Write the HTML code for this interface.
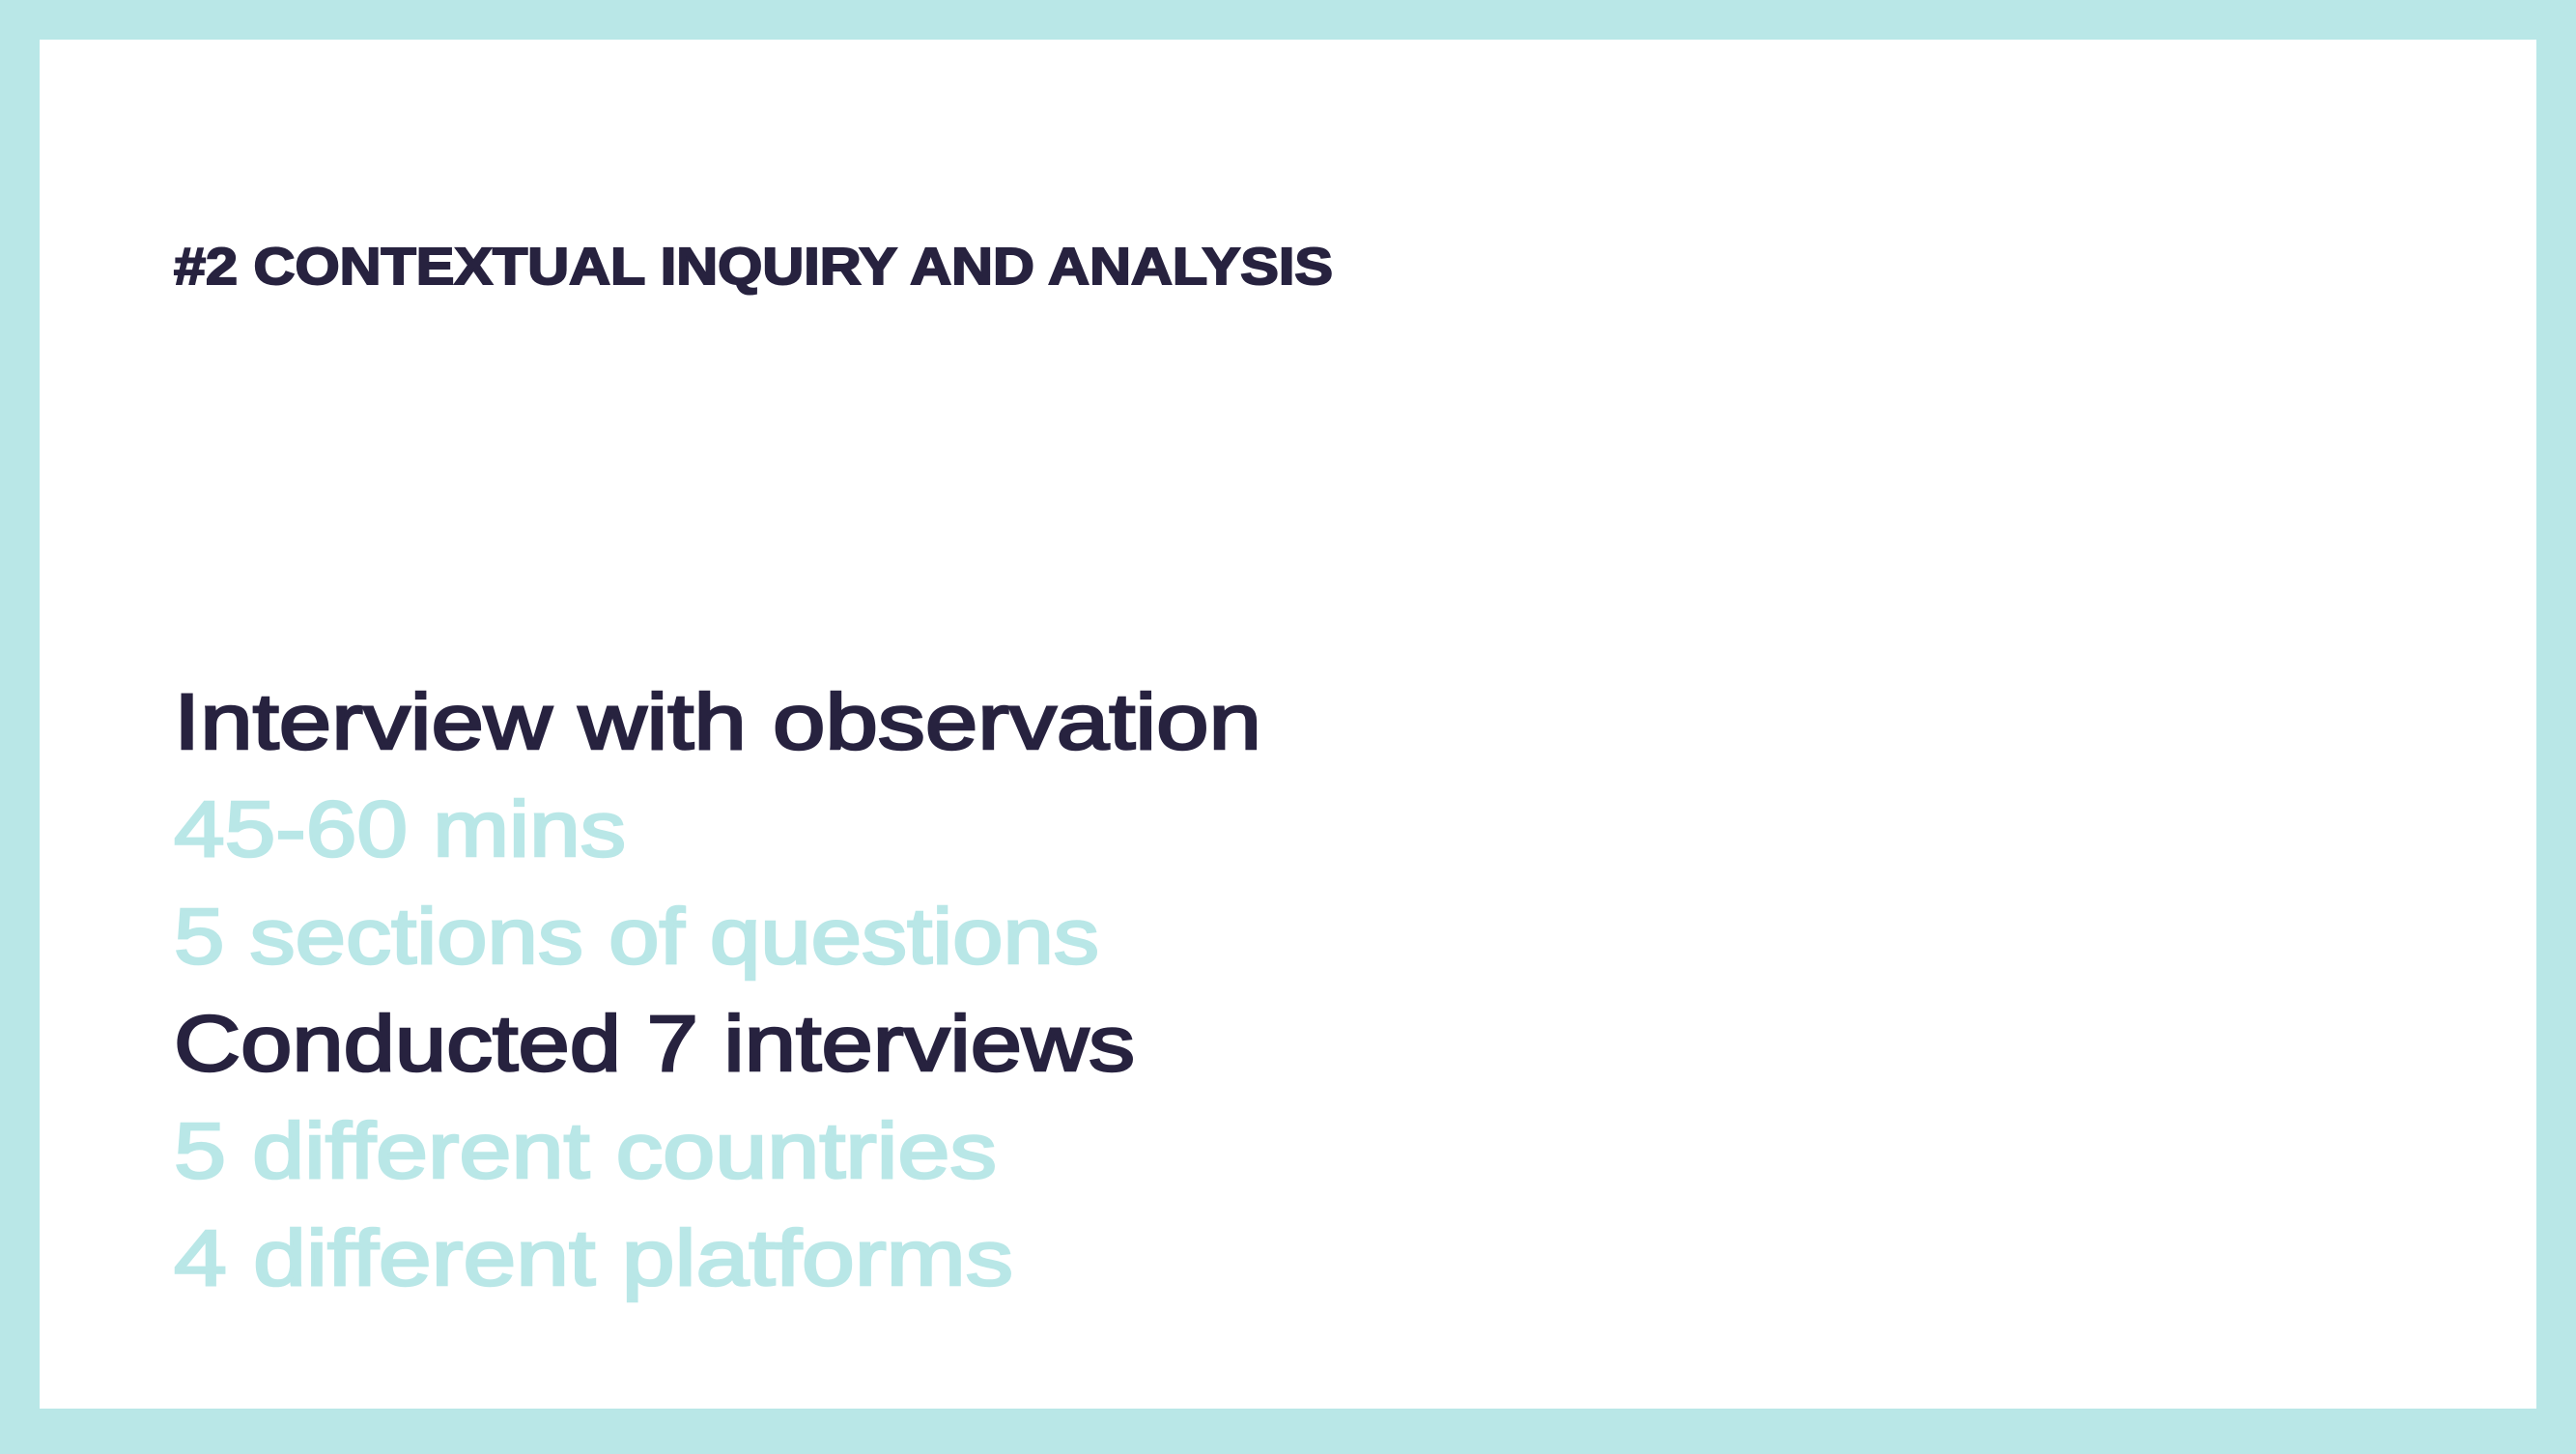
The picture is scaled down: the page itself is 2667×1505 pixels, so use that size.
<!DOCTYPE html>
<html><head><meta charset="utf-8"><style>
html,body{margin:0;padding:0;}
body{width:2667px;height:1500px;overflow:hidden;background:#b9e7e7;}
</style></head><body>
<svg width="2667" height="1500" xmlns="http://www.w3.org/2000/svg">
<rect x="0" y="0" width="2667" height="1500" fill="#b9e7e7"/>
<rect x="41" y="41" width="2585" height="1417" fill="#ffffff"/>
<g font-family="Liberation Sans, sans-serif">
<text x="180" y="294" font-size="54" font-weight="bold" fill="#27223f" stroke="#27223f" stroke-width="2" textLength="1200" lengthAdjust="spacingAndGlyphs">#2 CONTEXTUAL INQUIRY AND ANALYSIS</text>
<g stroke-width="2.5">
<text x="180" y="775" font-size="82" fill="#27223f" stroke="#27223f" textLength="1126" lengthAdjust="spacingAndGlyphs">Interview with observation</text>
<text x="180" y="886" font-size="82" fill="#b9e7e7" stroke="#b9e7e7" textLength="468" lengthAdjust="spacingAndGlyphs">45-60 mins</text>
<text x="180" y="997" font-size="82" fill="#b9e7e7" stroke="#b9e7e7" textLength="958" lengthAdjust="spacingAndGlyphs">5 sections of questions</text>
<text x="180" y="1108" font-size="82" fill="#27223f" stroke="#27223f" textLength="995" lengthAdjust="spacingAndGlyphs">Conducted 7 interviews</text>
<text x="180" y="1219" font-size="82" fill="#b9e7e7" stroke="#b9e7e7" textLength="852" lengthAdjust="spacingAndGlyphs">5 different countries</text>
<text x="180" y="1330" font-size="82" fill="#b9e7e7" stroke="#b9e7e7" textLength="869" lengthAdjust="spacingAndGlyphs">4 different platforms</text>
</g>
</g>
</svg>
</body></html>
